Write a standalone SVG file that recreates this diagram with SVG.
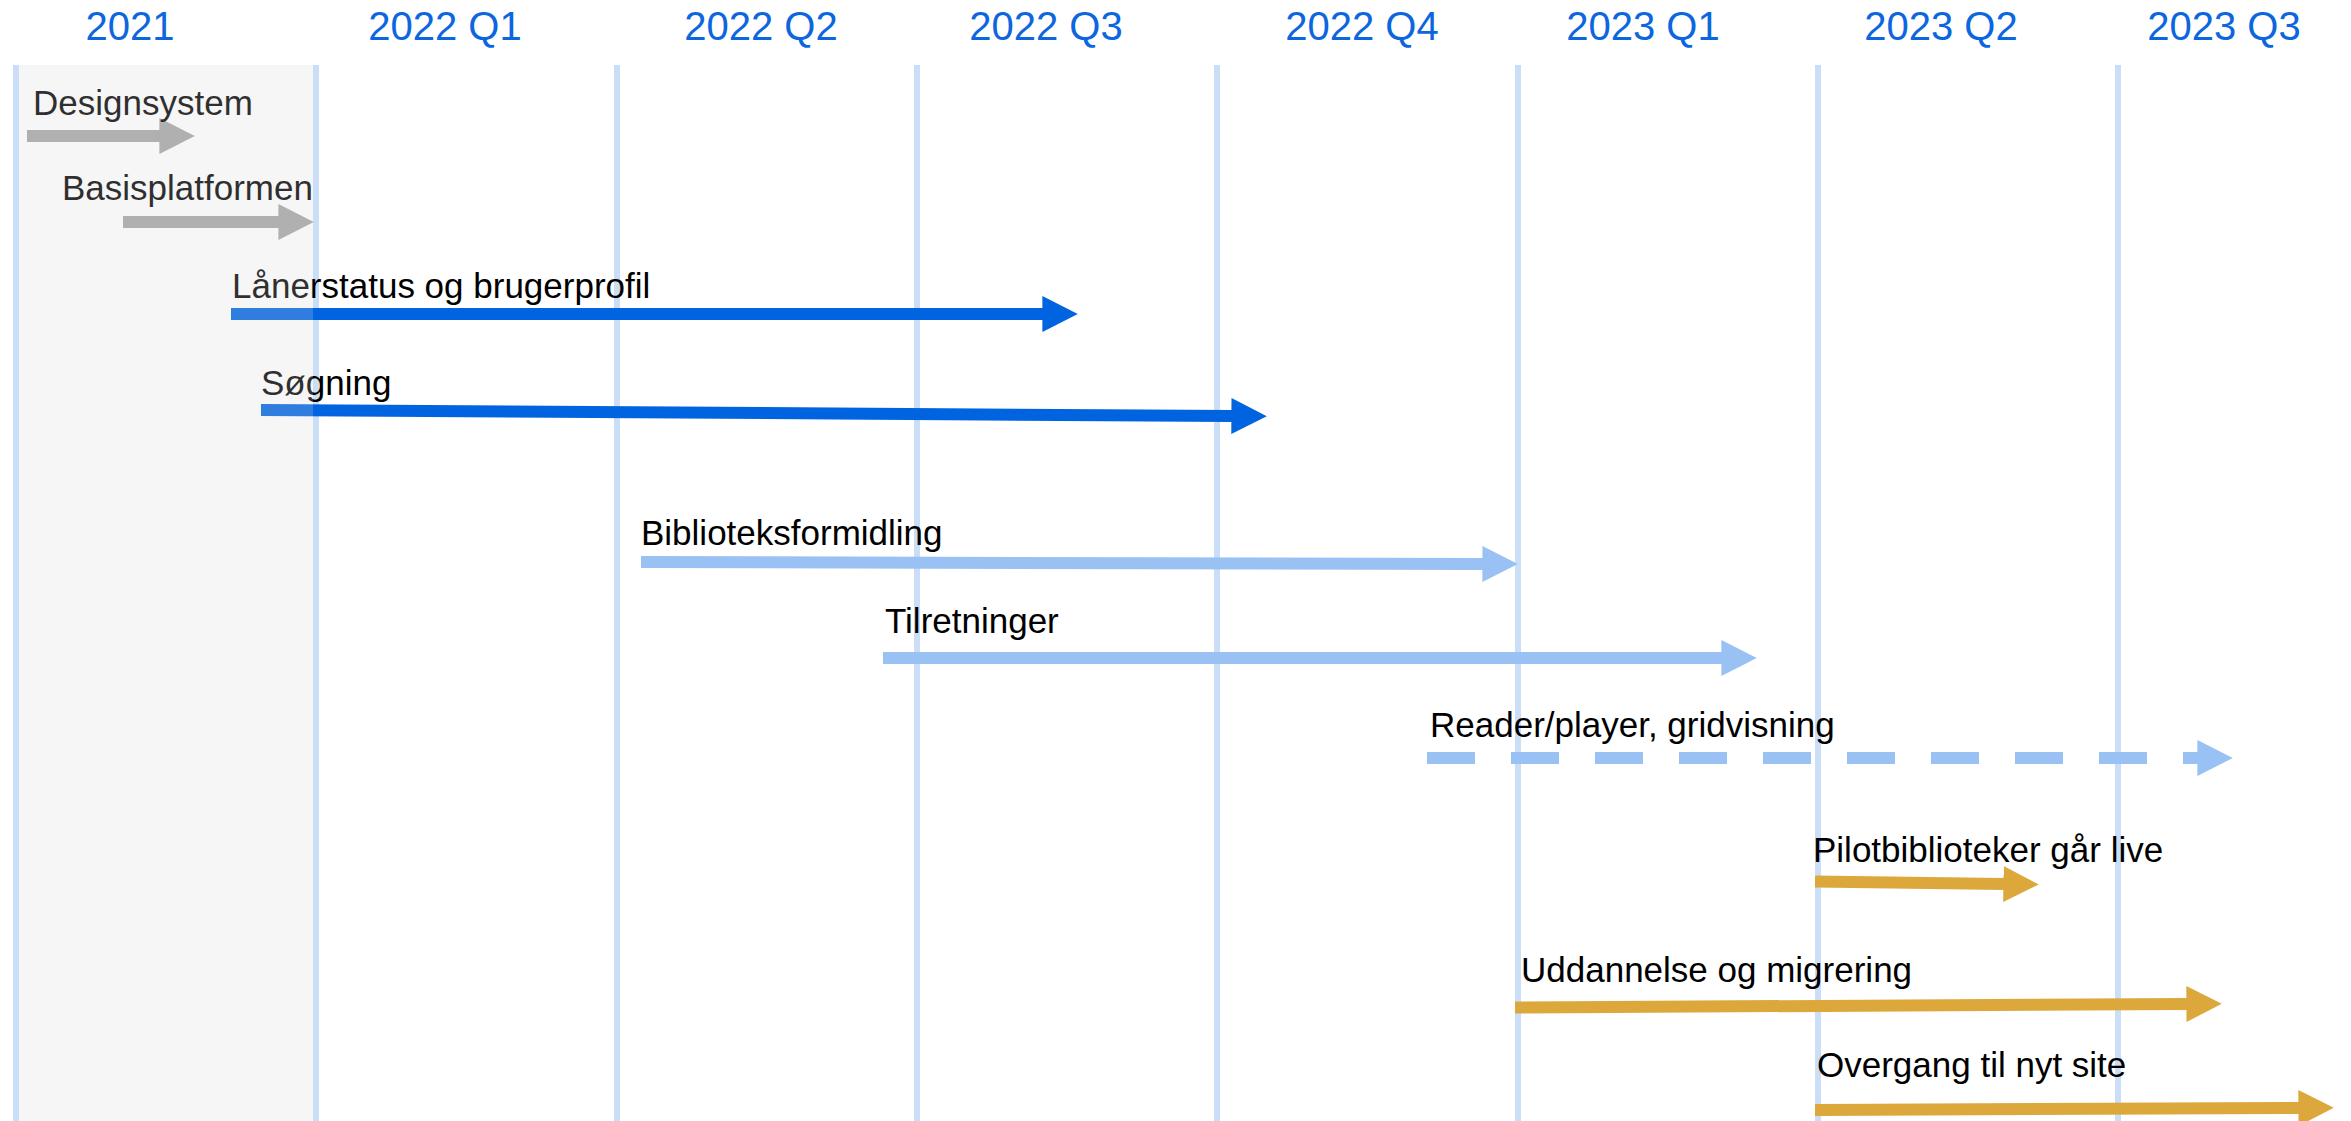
<svg xmlns="http://www.w3.org/2000/svg" width="2351" height="1121" viewBox="0 0 2351 1121">
  <style>
    .hdr { font-family: "Liberation Sans", Arial, sans-serif; font-size: 40px; fill: #0b66e0; text-anchor: middle; }
    .lbl { font-family: "Liberation Sans", Arial, sans-serif; font-size: 35px; fill: #000000; }
    .grid { stroke: #cadff7; stroke-width: 6; }
    .bar { fill: none; stroke-width: 12; stroke-linecap: butt; }
    .gray { stroke: #a6a6a6; marker-end: url(#hGray); }
    .dark { stroke: #0064e1; marker-end: url(#hDark); }
    .light { stroke: #99c1f3; marker-end: url(#hLight); }
    .gold { stroke: #dca83c; marker-end: url(#hGold); }
  </style>
  <defs>
    <marker id="hGray" viewBox="0 0 3 3" refX="0.05" refY="1.5" markerWidth="3" markerHeight="3" orient="auto"><path d="M0,0 L2.95,1.5 L0,3 Z" fill="#a6a6a6"/></marker>
    <marker id="hDark" viewBox="0 0 3 3" refX="0.05" refY="1.5" markerWidth="3" markerHeight="3" orient="auto"><path d="M0,0 L2.95,1.5 L0,3 Z" fill="#0064e1"/></marker>
    <marker id="hLight" viewBox="0 0 3 3" refX="0.05" refY="1.5" markerWidth="3" markerHeight="3" orient="auto"><path d="M0,0 L2.95,1.5 L0,3 Z" fill="#99c1f3"/></marker>
    <marker id="hGold" viewBox="0 0 3 3" refX="0.05" refY="1.5" markerWidth="3" markerHeight="3" orient="auto"><path d="M0,0 L2.95,1.5 L0,3 Z" fill="#dca83c"/></marker>
  </defs>
  <rect x="0" y="0" width="2351" height="1121" fill="#ffffff"/>

  <g id="header">
    <text class="hdr" x="130" y="40">2021</text>
    <text class="hdr" x="445" y="40">2022 Q1</text>
    <text class="hdr" x="761" y="40">2022 Q2</text>
    <text class="hdr" x="1046" y="40">2022 Q3</text>
    <text class="hdr" x="1362" y="40">2022 Q4</text>
    <text class="hdr" x="1643" y="40">2023 Q1</text>
    <text class="hdr" x="1941" y="40">2023 Q2</text>
    <text class="hdr" x="2224" y="40">2023 Q3</text>
  </g>

  <g id="gridlines">
    <line class="grid" x1="16" y1="65" x2="16" y2="1121"/>
    <line class="grid" x1="316" y1="65" x2="316" y2="1121"/>
    <line class="grid" x1="617" y1="65" x2="617" y2="1121"/>
    <line class="grid" x1="917" y1="65" x2="917" y2="1121"/>
    <line class="grid" x1="1217" y1="65" x2="1217" y2="1121"/>
    <line class="grid" x1="1518" y1="65" x2="1518" y2="1121"/>
    <line class="grid" x1="1818" y1="65" x2="1818" y2="1121"/>
    <line class="grid" x1="2118" y1="65" x2="2118" y2="1121"/>
  </g>

  <g id="connectors">
    <line class="bar gray" x1="27" y1="136" x2="160" y2="136"/>
    <line class="bar gray" x1="123" y1="222" x2="279" y2="222"/>
    <line class="bar dark" x1="231" y1="314" x2="1043" y2="314"/>
    <line class="bar dark" x1="261" y1="410" x2="1232" y2="416"/>
    <line class="bar light" x1="641" y1="562" x2="1483" y2="564"/>
    <line class="bar light" x1="883" y1="658" x2="1722" y2="658"/>
    <line class="bar light" x1="1427" y1="758" x2="2198" y2="758" stroke-dasharray="48 36"/>
    <line class="bar gold" x1="1815" y1="881.5" x2="2004" y2="884"/>
    <line class="bar gold" x1="1515" y1="1007.5" x2="2187" y2="1004"/>
    <line class="bar gold" x1="1815" y1="1110" x2="2299" y2="1108"/>
  </g>

  <g id="node-designsystem"><text class="lbl" x="33" y="115">Designsystem</text></g>
  <g id="node-basisplatformen"><text class="lbl" x="62" y="200">Basisplatformen</text></g>
  <g id="node-lanerstatus"><text class="lbl" x="232" y="298">Lånerstatus og brugerprofil</text></g>
  <g id="node-sogning"><text class="lbl" x="261" y="395">Søgning</text></g>
  <g id="node-biblioteksformidling"><text class="lbl" x="641" y="545">Biblioteksformidling</text></g>
  <g id="node-tilretninger"><text class="lbl" x="885" y="633">Tilretninger</text></g>
  <g id="node-reader"><text class="lbl" x="1430" y="737">Reader/player, gridvisning</text></g>
  <g id="node-pilot"><text class="lbl" x="1813" y="862">Pilotbiblioteker går live</text></g>
  <g id="node-uddannelse"><text class="lbl" x="1521" y="982">Uddannelse og migrering</text></g>
  <g id="node-overgang"><text class="lbl" x="1817" y="1077">Overgang til nyt site</text></g>

  <rect id="panel-2021" x="19" y="65" width="294" height="1056" fill="#d5d5d5" fill-opacity="0.22"/>
</svg>
